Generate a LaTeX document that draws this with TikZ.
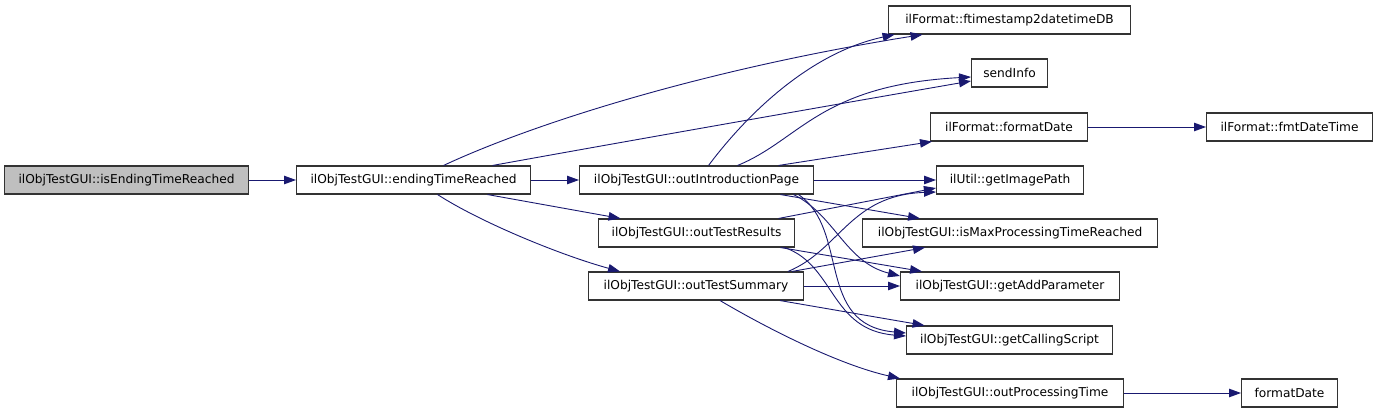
\documentclass[tikz,border=0pt]{standalone}
\usepackage{fontspec}
\setmainfont{DejaVu Sans}
\usepackage{tikz}
\usetikzlibrary{positioning, calc, arrows.meta}
\definecolor{callblue}{RGB}{25,25,112}
\definecolor{rootgray}{RGB}{191,191,191}

\begin{document}
\begin{tikzpicture}[x=1pt, y=-1pt]
        % Define block styles
        \tikzstyle{block} = [rectangle, draw=black!80, line width=1.1pt, fill=white, anchor=west, minimum height=28pt, inner sep=0pt, font=\fontsize{12.2}{14}\selectfont]
        \tikzstyle{call} = [draw=callblue, line width=0.9pt, -{Triangle[length=12pt, width=8.5pt]}]

        \useasboundingbox (0,0) rectangle (1379,413);

        % Place nodes
        \node [block, fill=rootgray, minimum width=244pt] (is_ending) at (4,180) {ilObjTestGUI::isEndingTimeReached};
        \node [block, minimum width=234pt] (ending) at (296,180) {ilObjTestGUI::endingTimeReached};
        \node [block, minimum width=234pt] (intro) at (579,180) {ilObjTestGUI::outIntroductionPage};
        \node [block, minimum width=196pt] (results) at (598,233) {ilObjTestGUI::outTestResults};
        \node [block, minimum width=215pt] (summary) at (588,286) {ilObjTestGUI::outTestSummary};
        \node [block, minimum width=242pt] (ftimestamp) at (888,20) {ilFormat::ftimestamp2datetimeDB};
        \node [block, minimum width=76pt] (send_info) at (971,73) {sendInfo};
        \node [block, minimum width=157pt] (format_date) at (930,127) {ilFormat::formatDate};
        \node [block, minimum width=147pt] (image_path) at (936,180) {ilUtil::getImagePath};
        \node [block, minimum width=295pt] (is_max) at (862,233) {ilObjTestGUI::isMaxProcessingTimeReached};
        \node [block, minimum width=219pt] (add_param) at (900,286) {ilObjTestGUI::getAddParameter};
        \node [block, minimum width=206pt] (calling) at (906,340) {ilObjTestGUI::getCallingScript};
        \node [block, minimum width=227pt] (proc_time) at (896,393) {ilObjTestGUI::outProcessingTime};
        \node [block, minimum width=166pt] (fmt_datetime) at (1206,127) {ilFormat::fmtDateTime};
        \node [block, minimum width=96pt] (plain_date) at (1241,393) {formatDate};

        % Draw connections as arrows
        \draw [call] (is_ending) -- (ending);
        \draw [call] (ending) -- (intro);
        \draw [call] ([xshift=30pt]ending.north) .. controls (530,125) and (700,70) .. ([xshift=-87pt]ftimestamp.south);
        \draw [call] ([xshift=79pt]ending.north) .. controls (650,137) and (850,102) .. ([yshift=-8pt]send_info.west);
        \draw [call] ([xshift=74pt]ending.south) -- ([xshift=-76pt]results.north);
        \draw [call] ([xshift=24pt]ending.south) .. controls (480,222) and (560,255) .. ([xshift=-76pt]summary.north);

        \draw [call] ([xshift=12pt]intro.north) .. controls (735,130) and (800,55) .. ([xshift=-115pt]ftimestamp.south);
        \draw [call] ([xshift=41pt]intro.north) .. controls (800,140) and (820,85) .. ([yshift=-4pt]send_info.west);
        \draw [call] ([xshift=82pt]intro.north) -- ([xshift=2pt]format_date.south west);
        \draw [call] (intro) -- (image_path);
        \draw [call] ([xshift=84pt]intro.south) -- ([xshift=-90pt]is_max.north);
        \draw [call] ([xshift=97pt]intro.south) .. controls (835,215) and (845,262) .. ([yshift=10pt]add_param.west);
        \draw [call] ([xshift=102pt]intro.south) .. controls (850,230) and (815,325) .. ([yshift=7pt]calling.west);

        \draw [call] ([xshift=82pt]results.north) -- ([yshift=-8pt]image_path.west);
        \draw [call] ([xshift=84pt]results.south) -- ([xshift=-88pt]add_param.north);
        \draw [call] ([xshift=88pt]results.south) .. controls (835,265) and (830,330) .. ([yshift=4pt]calling.west);

        \draw [call] ([xshift=92pt]summary.north) .. controls (840,250) and (850,195) .. ([yshift=-12pt]image_path.west);
        \draw [call] ([xshift=96pt]summary.north) -- ([xshift=-85pt]is_max.south);
        \draw [call] (summary) -- (add_param);
        \draw [call] ([xshift=84pt]summary.south) -- ([xshift=-85pt]calling.north);
        \draw [call] ([xshift=24pt]summary.south) .. controls (770,330) and (840,365) .. ([xshift=4pt]proc_time.north west);

        \draw [call] (format_date) -- (fmt_datetime);
        \draw [call] (proc_time) -- (plain_date);
\end{tikzpicture}
\end{document}
